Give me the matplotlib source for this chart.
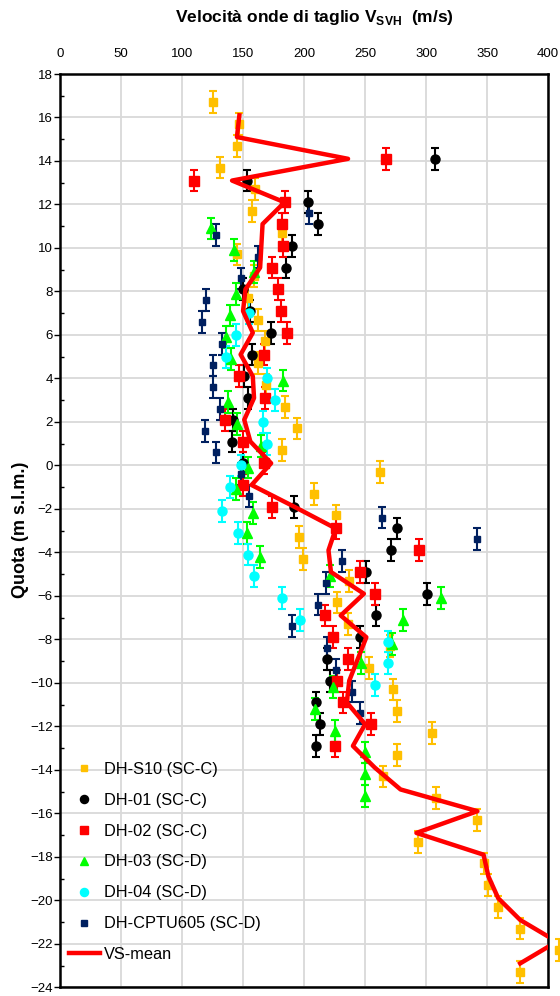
import matplotlib
matplotlib.use('Agg')
import matplotlib.pyplot as plt
from matplotlib.lines import Line2D
from matplotlib.ticker import MultipleLocator

plt.rcParams['font.family'] = ['Liberation Sans', 'DejaVu Sans']
plt.rcParams['mathtext.fontset'] = 'custom'
plt.rcParams['mathtext.rm'] = 'Liberation Sans'
plt.rcParams['mathtext.bf'] = 'Liberation Sans:bold'

# DH-S10 (SC-C)
s10_vs = [125, 147, 145, 131, 160, 157, 182, 145, 159, 154, 162, 168, 162, 169, 184, 194, 182,
          262, 208, 226, 196, 199, 237, 227, 236, 270, 253, 273, 276, 305, 276, 265, 308, 342,
          293, 347, 351, 359, 377, 409, 377]
s10_q = [16.7, 15.7, 14.7, 13.7, 12.7, 11.7, 10.7, 9.7, 8.7, 7.7, 6.7, 5.7, 4.7, 3.7, 2.7, 1.7, 0.7,
         -0.3, -1.3, -2.3, -3.3, -4.3, -5.3, -6.3, -7.3, -8.3, -9.3, -10.3, -11.3, -12.3, -13.3, -14.3,
         -15.3, -16.3, -17.3, -18.3, -19.3, -20.3, -21.3, -22.3, -23.3]

# DH-01 (SC-C)
dh01_vs = [307, 153, 203, 211, 190, 185, 150, 156, 173, 157, 151, 154, 142, 141, 150,
           192, 276, 271, 251, 301, 259, 246, 219, 221, 210, 213, 210]
dh01_q = [14.1, 13.1, 12.1, 11.1, 10.1, 9.1, 8.1, 7.1, 6.1, 5.1, 4.1, 3.1, 2.1, 1.1, 0.1,
          -1.9, -2.9, -3.9, -4.9, -5.9, -6.9, -7.9, -8.9, -9.9, -10.9, -11.9, -12.9]

# DH-02 (SC-C)
dh02_vs = [267, 110, 184, 182, 183, 174, 179, 181, 186, 167, 147, 168, 135, 150, 167, 150,
           174, 226, 294, 246, 258, 217, 224, 236, 227, 232, 255, 225]
dh02_q = [14.1, 13.1, 12.1, 11.1, 10.1, 9.1, 8.1, 7.1, 6.1, 5.1, 4.1, 3.1, 2.1, 1.1, 0.1, -0.9,
          -1.9, -2.9, -3.9, -4.9, -5.9, -6.9, -7.9, -8.9, -9.9, -10.9, -11.9, -12.9]

# DH-03 (SC-D)
dh03_vs = [124, 143, 159, 144, 139, 136, 140, 183, 138, 145, 165, 154, 144, 158, 153, 164,
           221, 312, 281, 272, 247, 224, 209, 225, 250, 250, 250]
dh03_q = [10.9, 9.9, 8.9, 7.9, 6.9, 5.9, 4.9, 3.9, 2.9, 1.9, 0.9, -0.1, -1.1, -2.2, -3.1, -4.2,
          -5.1, -6.1, -7.1, -8.2, -9.1, -10.2, -11.2, -12.2, -13.2, -14.2, -15.2]

# DH-04 (SC-D)
dh04_vs = [155, 144, 136, 170, 176, 166, 170, 148, 139, 133, 146, 154, 159, 182, 197, 269, 269, 258]
dh04_q = [7.0, 6.0, 5.0, 4.0, 3.0, 2.0, 1.0, 0.0, -1.0, -2.1, -3.1, -4.1, -5.1, -6.1, -7.1,
          -8.1, -9.1, -10.1]

# DH-CPTU605 (SC-D)
cptu_vs = [204, 128, 162, 148, 120, 116, 133, 125, 125, 131, 119, 128, 148, 155, 264, 342,
           231, 218, 211, 190, 219, 226, 239, 246]
cptu_q = [11.6, 10.6, 9.6, 8.6, 7.6, 6.6, 5.6, 4.6, 3.6, 2.6, 1.6, 0.6, -0.4, -1.4, -2.4, -3.4,
          -4.4, -5.4, -6.4, -7.4, -8.4, -9.4, -10.4, -11.4]

# VS-mean
mean_vs = [147, 145, 236, 141, 184, 166, 165, 164, 152, 150, 158, 148, 158, 159, 151, 156, 173,
           157, 192, 226, 220, 222, 249, 230, 251, 244, 237, 235, 250, 240, 258, 279, 342, 292,
           347, 351, 359, 377, 407, 377]
mean_q = [16.1, 15.1, 14.1, 13.1, 12.1, 11.1, 10.1, 9.1, 8.1, 7.1, 6.1, 5.1, 4.1, 3.1, 2.1, 1.1,
          0.1, -0.9, -1.9, -2.9, -3.9, -4.9, -5.9, -6.9, -7.9, -8.9, -9.9, -10.9, -11.9, -12.9,
          -13.9, -14.9, -15.9, -16.9, -17.9, -18.9, -19.9, -20.9, -21.9, -22.9]

err = 0.5

series = [
    ('DH-S10 (SC-C)', s10_vs, s10_q, '#FFC000', 's', 5.5),
    ('DH-01 (SC-C)', dh01_vs, dh01_q, 'black', 'o', 6.5),
    ('DH-02 (SC-C)', dh02_vs, dh02_q, '#FF0000', 's', 6.5),
    ('DH-03 (SC-D)', dh03_vs, dh03_q, '#00FF00', '^', 7),
    ('DH-04 (SC-D)', dh04_vs, dh04_q, '#00FFFF', 'o', 6.5),
    ('DH-CPTU605 (SC-D)', cptu_vs, cptu_q, '#002060', 's', 5),
]

fig = plt.figure(figsize=(5.6, 9.96), dpi=100)
ax = fig.add_axes([0.107, 0.0087, 0.872, 0.917])

handles = []
for label, vs, q, col, mk, ms in series:
    ax.errorbar(vs, q, yerr=err, fmt=mk, color=col, mec=col, ms=ms,
                elinewidth=1.5, capsize=2.6, capthick=1.5, clip_on=False, zorder=3)
    handles.append(Line2D([], [], ls='none', marker=mk, color=col, ms=ms * 0.9))

ax.plot(mean_vs, mean_q, color='#FF0000', lw=3.2, zorder=4)
handles.append(Line2D([], [], color='#FF0000', lw=3.2))

ax.set_xlim(0, 400)
ax.set_ylim(-24, 18)
ax.xaxis.tick_top()
ax.xaxis.set_major_locator(MultipleLocator(50))
ax.yaxis.set_major_locator(MultipleLocator(2))
ax.yaxis.set_minor_locator(MultipleLocator(1))
ax.tick_params(axis='x', length=0, pad=10, labelsize=9.5)
ax.tick_params(axis='y', which='major', direction='out', length=4, width=1, pad=1, labelsize=9.5)
ax.tick_params(axis='y', which='minor', direction='in', length=3, width=1)
ax.grid(True, color='#d9d9d9', lw=1.3)
ax.set_axisbelow(True)
for sp in ax.spines.values():
    sp.set_linewidth(1.8)

fig.text(0.561, 0.982, r'Velocità onde di taglio V$_{\mathbf{SVH}}$  (m/s)',
         ha='center', va='center', fontsize=12.5, fontweight='bold')
fig.text(0.036, 0.468, 'Quota (m s.l.m.)', rotation=90, ha='center', va='center',
         fontsize=13, fontweight='bold')

labels = [s[0] for s in series] + ['VS-mean']
fig.legend(handles, labels, loc='upper left', bbox_to_anchor=(0.096, 0.25),
           frameon=False, fontsize=11.8, labelspacing=0.97, handlelength=1.95,
           handletextpad=0.2)

fig.savefig('out.png', dpi=100)
